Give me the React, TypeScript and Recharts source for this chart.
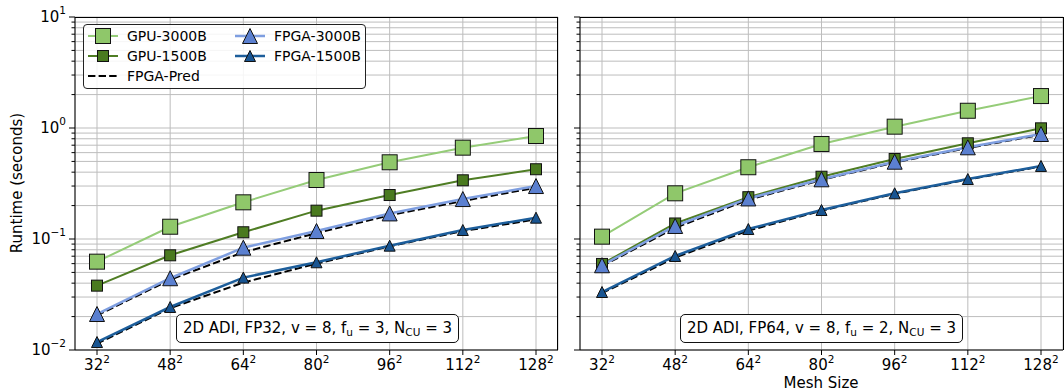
import React from 'react';
import { LineChart, Line, XAxis, YAxis, CartesianGrid } from 'recharts';

// ---------- data ----------
const categories = ['32', '48', '64', '80', '96', '112', '128'];

// FP32 panel (left)
const gpu3000Fp32 = [0.0625, 0.129, 0.214, 0.34, 0.491, 0.665, 0.847];
const gpu1500Fp32 = [0.038, 0.0713, 0.115, 0.18, 0.249, 0.338, 0.425];
const fpga3000Fp32 = [0.0211, 0.0443, 0.0835, 0.118, 0.17, 0.229, 0.3];
const fpga1500Fp32 = [0.0118, 0.0244, 0.0449, 0.0617, 0.0871, 0.1205, 0.1556];
const pred3000Fp32 = [0.0205, 0.043, 0.076, 0.113, 0.164, 0.22, 0.29];
const pred1500Fp32 = [0.0114, 0.0238, 0.0405, 0.06, 0.086, 0.118, 0.15];

// FP64 panel (right)
const gpu3000Fp64 = [0.105, 0.258, 0.443, 0.718, 1.028, 1.43, 1.94];
const gpu1500Fp64 = [0.0596, 0.138, 0.238, 0.364, 0.526, 0.728, 0.993];
const fpga3000Fp64 = [0.058, 0.131, 0.232, 0.345, 0.497, 0.67, 0.883];
const fpga1500Fp64 = [0.0333, 0.0703, 0.123, 0.1825, 0.258, 0.347, 0.455];
const pred3000Fp64 = [0.057, 0.126, 0.226, 0.34, 0.49, 0.66, 0.87];
const pred1500Fp64 = [0.0325, 0.068, 0.119, 0.18, 0.255, 0.344, 0.45];

const yMajorTicks = [0.01, 0.1, 1, 10];
const yMinorMultipliers = [2, 3, 4, 5, 6, 7, 8, 9];

const seriesNames = ['GPU-3000B', 'GPU-1500B', 'FPGA-Pred', 'FPGA-3000B', 'FPGA-1500B'];
const annotationLeft = { fp: 'FP32', v: 8, fu: 3, ncu: 3 };
const annotationRight = { fp: 'FP64', v: 8, fu: 2, ncu: 3 };

// ---------- styles ----------
const FONT = 'DejaVu Sans, sans-serif';
const C = {
  gpu3000Line: '#95cc78',
  gpu3000Fill: '#8fc76a',
  gpu1500Line: '#4f7d24',
  gpu1500Fill: '#4a7a1f',
  fpga3000Line: '#7e9ee0',
  fpga3000Fill: '#5b80d0',
  fpga1500Line: '#1d5e9b',
  fpga1500Fill: '#195592',
  grid: '#bdbdbd',
};

const yTicks: number[] = [];
yMajorTicks.forEach((m, i) => {
  yTicks.push(m);
  if (i < yMajorTicks.length - 1) yMinorMultipliers.forEach((k) => yTicks.push(+(m * k).toPrecision(6)));
});

const buildRows = (a: number[], b: number[], c: number[], d: number[], e: number[], f: number[]) =>
  categories.map((size, i) => ({
    size,
    gpu3000: a[i],
    gpu1500: b[i],
    fpga3000: c[i],
    fpga1500: d[i],
    pred3000: e[i],
    pred1500: f[i],
  }));

const leftData = buildRows(gpu3000Fp32, gpu1500Fp32, fpga3000Fp32, fpga1500Fp32, pred3000Fp32, pred1500Fp32);
const rightData = buildRows(gpu3000Fp64, gpu1500Fp64, fpga3000Fp64, fpga1500Fp64, pred3000Fp64, pred1500Fp64);

// ---------- markers ----------
const squareDot = (size: number, fill: string) => (p: any) => {
  if (p.cx == null || p.cy == null) return <g key={`s${p.index}`} />;
  return (
    <rect
      key={`s${p.index}`}
      x={p.cx - size / 2}
      y={p.cy - size / 2}
      width={size}
      height={size}
      fill={fill}
      stroke="#111"
      strokeWidth={1}
    />
  );
};
const triDot = (size: number, fill: string) => (p: any) => {
  if (p.cx == null || p.cy == null) return <g key={`t${p.index}`} />;
  const h = size / 2;
  return (
    <polygon
      key={`t${p.index}`}
      points={`${p.cx},${p.cy - h} ${p.cx - h},${p.cy + h} ${p.cx + h},${p.cy + h}`}
      fill={fill}
      stroke="#111"
      strokeWidth={1}
      strokeLinejoin="miter"
    />
  );
};

// ---------- ticks ----------
const makeYTick = (showLabel: boolean) => (props: any) => {
  const { x, y, payload } = props;
  const v = payload.value as number;
  const e = Math.round(Math.log10(v));
  const major = Math.abs(v - Math.pow(10, e)) < 1e-9 * v;
  const expStr = e < 0 ? '\u2212' + -e : String(e);
  return (
    <g>
      <line x1={x} x2={x - (major ? 6 : 3.5)} y1={y} y2={y} stroke="#000" strokeWidth={1} />
      {major && showLabel && (
        <text x={x - 9} y={y + 5} textAnchor="end" fontSize={15} fontFamily={FONT} fill="#000">
          10
          <tspan dy={-8} fontSize={10.5}>
            {expStr}
          </tspan>
        </text>
      )}
    </g>
  );
};

const XTick = (props: any) => {
  const { x, y, payload } = props;
  return (
    <g>
      <line x1={x} x2={x} y1={y} y2={y + 5} stroke="#000" strokeWidth={1} />
      <text x={x} y={y + 20} textAnchor="middle" fontSize={15} fontFamily={FONT} fill="#000">
        {payload.value}
        <tspan dy={-7} fontSize={10.5}>
          2
        </tspan>
      </text>
    </g>
  );
};

// ---------- panel ----------
const Panel = ({ data, showYLabels }: { data: any[]; showYLabels: boolean }) => (
  <>
    <CartesianGrid stroke={C.grid} strokeWidth={1} />
    <XAxis
      dataKey="size"
      type="category"
      interval={0}
      padding={{ left: 22, right: 22 }}
      tickSize={0}
      tickMargin={0}
      tickLine={false}
      axisLine={{ stroke: '#000', strokeWidth: 1 }}
      tick={XTick}
      height={30}
    />
    <YAxis
      scale="log"
      type="number"
      domain={[0.01, 10]}
      allowDataOverflow
      ticks={yTicks}
      interval={0}
      tickSize={0}
      tickMargin={0}
      tickLine={false}
      axisLine={{ stroke: '#000', strokeWidth: 1 }}
      tick={makeYTick(showYLabels)}
      width={60}
    />
    <Line dataKey="gpu3000" stroke={C.gpu3000Line} strokeWidth={2} dot={squareDot(15, C.gpu3000Fill)} activeDot={false} isAnimationActive={false} />
    <Line dataKey="gpu1500" stroke={C.gpu1500Line} strokeWidth={2} dot={squareDot(11, C.gpu1500Fill)} activeDot={false} isAnimationActive={false} />
    <Line dataKey="pred3000" stroke="#000" strokeWidth={2} strokeDasharray="7.4 3.2" dot={false} activeDot={false} isAnimationActive={false} />
    <Line dataKey="pred1500" stroke="#000" strokeWidth={2} strokeDasharray="7.4 3.2" dot={false} activeDot={false} isAnimationActive={false} />
    <Line dataKey="fpga3000" stroke={C.fpga3000Line} strokeWidth={2.5} dot={triDot(15, C.fpga3000Fill)} activeDot={false} isAnimationActive={false} />
    <Line dataKey="fpga1500" stroke={C.fpga1500Line} strokeWidth={2.5} dot={triDot(11, C.fpga1500Fill)} activeDot={false} isAnimationActive={false} />
  </>
);

// ---------- legend ----------
const LegendSymbol = ({ name }: { name: string }) => {
  const line = (color: string, w: number, dash?: string) => (
    <line x1={0} x2={30} y1={10} y2={10} stroke={color} strokeWidth={w} strokeDasharray={dash} />
  );
  let content: React.ReactNode = null;
  if (name === 'GPU-3000B')
    content = (
      <>
        {line(C.gpu3000Line, 2)}
        <rect x={7.5} y={2.5} width={15} height={15} fill={C.gpu3000Fill} stroke="#111" />
      </>
    );
  else if (name === 'GPU-1500B')
    content = (
      <>
        {line(C.gpu1500Line, 2)}
        <rect x={9.5} y={4.5} width={11} height={11} fill={C.gpu1500Fill} stroke="#111" />
      </>
    );
  else if (name === 'FPGA-Pred') content = line('#000', 2, '7.4 3.2');
  else if (name === 'FPGA-3000B')
    content = (
      <>
        {line(C.fpga3000Line, 2.5)}
        <polygon points="15,2.5 7.5,17.5 22.5,17.5" fill={C.fpga3000Fill} stroke="#111" />
      </>
    );
  else
    content = (
      <>
        {line(C.fpga1500Line, 2.5)}
        <polygon points="15,4.5 9.5,15.5 20.5,15.5" fill={C.fpga1500Fill} stroke="#111" />
      </>
    );
  return (
    <svg width={30} height={20} style={{ display: 'block', overflow: 'visible' }}>
      {content}
    </svg>
  );
};

const LegendBox = () => {
  const col1 = seriesNames.slice(0, 3);
  const col2 = seriesNames.slice(3);
  const renderCol = (names: string[], left: number) => (
    <div style={{ position: 'absolute', left, top: 1 }}>
      {names.map((n) => (
        <div key={n} style={{ display: 'flex', alignItems: 'center', height: 20 }}>
          <LegendSymbol name={n} />
          <span style={{ marginLeft: 9, fontSize: 14, fontFamily: FONT, color: '#000', lineHeight: '20px' }}>{n}</span>
        </div>
      ))}
    </div>
  );
  return (
    <div
      style={{
        position: 'absolute',
        left: 83,
        top: 24,
        width: 283,
        height: 65,
        boxSizing: 'border-box',
        border: '1px solid #222',
        borderRadius: 4,
        background: 'rgba(255,255,255,0.85)',
      }}
    >
      {renderCol(col1, 4)}
      {renderCol(col2, 151)}
    </div>
  );
};

const Annotation = ({ left, a }: { left: number; a: { fp: string; v: number; fu: number; ncu: number } }) => (
  <div
    style={{
      position: 'absolute',
      left,
      top: 314,
      width: 283,
      height: 29,
      boxSizing: 'border-box',
      border: '1px solid #111',
      borderRadius: 5,
      background: '#fff',
      fontFamily: FONT,
      fontSize: 15,
      lineHeight: '27px',
      textAlign: 'center',
      color: '#000',
      whiteSpace: 'nowrap',
    }}
  >
    2D ADI, {a.fp}, v = {a.v}, f<sub style={{ fontSize: 10.5, verticalAlign: '-3px' }}>u</sub> = {a.fu}, N
    <sub style={{ fontSize: 10.5, verticalAlign: '-3px' }}>CU</sub> = {a.ncu}
  </div>
);

export default function App() {
  return (
    <div style={{ position: 'absolute', left: 0, top: 0, width: 1064, height: 392, background: '#fff', overflow: 'hidden' }}>
      <div style={{ position: 'absolute', left: 0, top: 0 }}>
        <LineChart width={570} height={392} data={leftData} margin={{ top: 17, right: 12, bottom: 12, left: 15 }}>
          {Panel({ data: leftData, showYLabels: true })}
        </LineChart>
      </div>
      <div style={{ position: 'absolute', left: 520, top: 0 }}>
        <LineChart width={544} height={392} data={rightData} margin={{ top: 17, right: 1, bottom: 12, left: 0 }}>
          {Panel({ data: rightData, showYLabels: false })}
        </LineChart>
      </div>
      {/* top & right spines */}
      <div style={{ position: 'absolute', left: 75, top: 16.5, width: 483, height: 333.5, borderTop: '1px solid #000', borderRight: '1px solid #000', boxSizing: 'border-box', pointerEvents: 'none' }} />
      <div style={{ position: 'absolute', left: 580, top: 16.5, width: 483.5, height: 333.5, borderTop: '1px solid #000', borderRight: '1px solid #000', boxSizing: 'border-box', pointerEvents: 'none' }} />
      <LegendBox />
      <Annotation left={176} a={annotationLeft} />
      <Annotation left={680} a={annotationRight} />
      <div
        style={{
          position: 'absolute',
          left: 0,
          top: 183,
          width: 0,
          height: 0,
        }}
      >
        <div
          style={{
            position: 'absolute',
            left: 17,
            top: 0,
            transform: 'translate(-50%, -50%) rotate(-90deg)',
            fontFamily: FONT,
            fontSize: 15,
            whiteSpace: 'nowrap',
            color: '#000',
          }}
        >
          Runtime (seconds)
        </div>
      </div>
      <div
        style={{
          position: 'absolute',
          left: 821,
          top: 374,
          transform: 'translateX(-50%)',
          fontFamily: FONT,
          fontSize: 15,
          whiteSpace: 'nowrap',
          color: '#000',
        }}
      >
        Mesh Size
      </div>
    </div>
  );
}
